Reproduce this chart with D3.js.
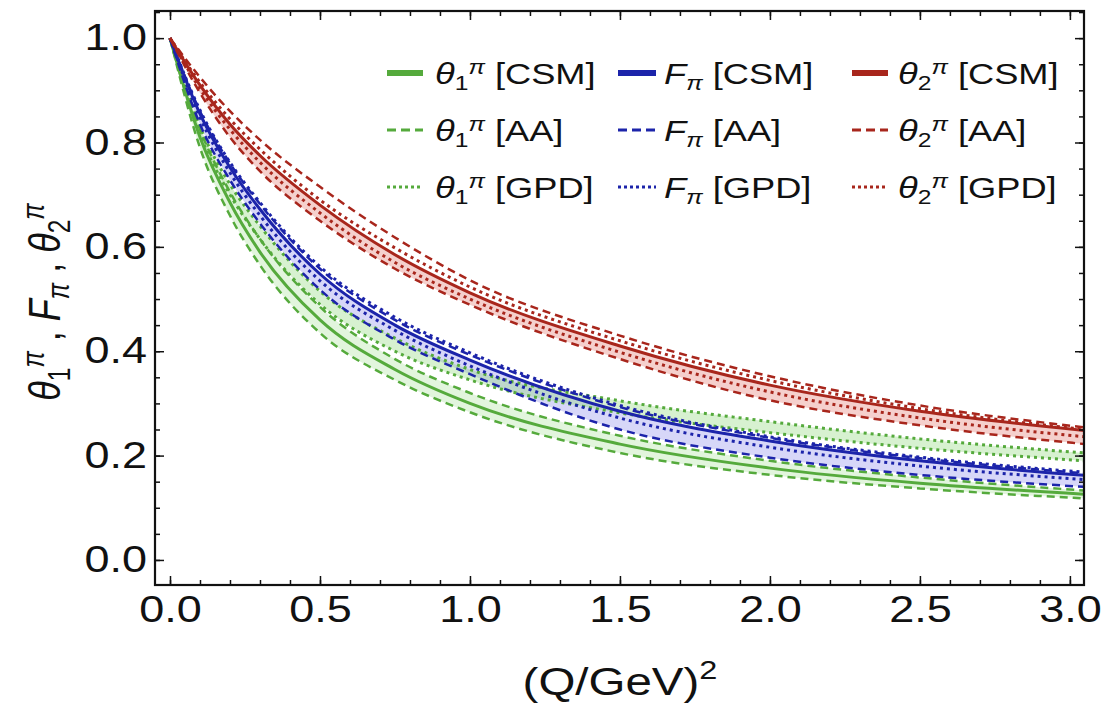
<!DOCTYPE html>
<html>
<head>
<meta charset="utf-8">
<script src="https://cdn.jsdelivr.net/npm/d3@7"></script>
<style>
  body { margin: 0; background: #fff; }
  text { font-family: "Liberation Sans", Arial, Helvetica, sans-serif; fill: #111; }
</style>
</head>
<body>
<svg id="svg" width="1114" height="709"></svg>
<script>
// Q^2 sample points (GeV^2)
const qVals = [0, 0.1, 0.2, 0.3, 0.5, 0.75, 1.0, 1.5, 2.0, 2.5, 3.05];

// theta_2 (red)
const th2Csm   = [1, 0.91, 0.835, 0.775, 0.68, 0.585, 0.512, 0.41, 0.335, 0.285, 0.248];
const th2AaHi  = [1, 0.925, 0.86, 0.805, 0.715, 0.618, 0.536, 0.43, 0.352, 0.296, 0.254];
const th2AaLo  = [1, 0.895, 0.81, 0.745, 0.65, 0.558, 0.489, 0.385, 0.306, 0.258, 0.222];
const th2GpdHi = [1, 0.915, 0.845, 0.787, 0.69, 0.598, 0.523, 0.42, 0.344, 0.29, 0.25];
const th2GpdLo = [1, 0.903, 0.825, 0.762, 0.665, 0.57, 0.5, 0.398, 0.322, 0.272, 0.236];

// F_pi (blue)
const fpCsm   = [1, 0.855, 0.752, 0.672, 0.548, 0.45, 0.383, 0.285, 0.228, 0.19, 0.162];
const fpAaHi  = [1, 0.86, 0.76, 0.682, 0.558, 0.46, 0.393, 0.293, 0.234, 0.195, 0.166];
const fpAaLo  = [1, 0.835, 0.728, 0.645, 0.518, 0.422, 0.356, 0.25, 0.196, 0.163, 0.14];
const fpGpdHi = [1, 0.862, 0.762, 0.685, 0.562, 0.465, 0.397, 0.296, 0.236, 0.197, 0.168];
const fpGpdLo = [1, 0.848, 0.742, 0.66, 0.535, 0.44, 0.372, 0.272, 0.216, 0.18, 0.154];

// theta_1 (green)
const th1Csm   = [1, 0.81, 0.685, 0.59, 0.46, 0.365, 0.30, 0.222, 0.176, 0.147, 0.126];
const th1AaHi  = [1, 0.825, 0.705, 0.615, 0.485, 0.385, 0.32, 0.238, 0.19, 0.158, 0.133];
const th1AaLo  = [1, 0.79, 0.66, 0.565, 0.435, 0.345, 0.283, 0.205, 0.163, 0.137, 0.118];
const th1GpdHi = [1, 0.83, 0.72, 0.64, 0.515, 0.425, 0.365, 0.305, 0.265, 0.232, 0.205];
const th1GpdLo = [1, 0.815, 0.7, 0.615, 0.49, 0.4, 0.345, 0.282, 0.244, 0.214, 0.19];

const xMajor = [0, 0.5, 1.0, 1.5, 2.0, 2.5, 3.0];
const yMajor = [0, 0.2, 0.4, 0.6, 0.8, 1.0];

const GREEN = "#55aa3c", BLUE = "#1c24aa", RED = "#a8261c";
const SX = 1.25; // the figure is horizontally stretched

let svg = d3.select("#svg");

const pLeft = 155, pRight = 1084, pTop = 11, pBottom = 585;
let xScale = d3.scaleLinear().domain([-0.05, 3.047]).range([pLeft, pRight]);
let yScale = d3.scaleLinear().domain([-0.048, 1.052]).range([pBottom, pTop]);

svg.append("defs").append("clipPath").attr("id", "clip")
    .append("rect").attr("x", pLeft).attr("y", pTop)
    .attr("width", pRight - pLeft).attr("height", pBottom - pTop);

let plot = svg.append("g").attr("clip-path", "url(#clip)");

let line = d3.line().x(d => xScale(d[0])).y(d => yScale(d[1])).curve(d3.curveMonotoneX);
let area = d3.area().x(d => xScale(d[0])).y0(d => yScale(d[1])).y1(d => yScale(d[2]))
    .curve(d3.curveMonotoneX);

function pts(vals) { return qVals.map((q, i) => [q, vals[i]]); }
function band(lo, hi) { return qVals.map((q, i) => [q, lo[i], hi[i]]); }

// shaded bands
plot.append("path").attr("d", area(band(th2AaLo, th2Csm))).attr("fill", "rgba(225,110,100,0.32)");
plot.append("path").attr("d", area(band(fpAaLo, fpCsm))).attr("fill", "rgba(110,110,230,0.28)");
plot.append("path").attr("d", area(band(th1GpdLo, th1GpdHi))).attr("fill", "rgba(140,215,120,0.35)");
plot.append("path").attr("d", area(band(th1AaLo, th1AaHi))).attr("fill", "rgba(140,215,120,0.25)");

const DASH = "8,5", DOT = "3,4";
let curves = [
    [th1AaHi, GREEN, DASH, 2.5], [th1AaLo, GREEN, DASH, 2.5],
    [th1GpdHi, GREEN, DOT, 3], [th1GpdLo, GREEN, DOT, 3],
    [th1Csm, GREEN, null, 3],
    [fpAaHi, BLUE, DASH, 2.5], [fpAaLo, BLUE, DASH, 2.5],
    [fpGpdHi, BLUE, DOT, 3], [fpGpdLo, BLUE, DOT, 3],
    [fpCsm, BLUE, null, 3],
    [th2AaHi, RED, DASH, 2.5], [th2AaLo, RED, DASH, 2.5],
    [th2GpdHi, RED, DOT, 3], [th2GpdLo, RED, DOT, 3],
    [th2Csm, RED, null, 3]
];
curves.forEach(c => {
    plot.append("path").attr("d", line(pts(c[0])))
        .attr("fill", "none").attr("stroke", c[1])
        .attr("stroke-width", c[3])
        .attr("stroke-dasharray", c[2]);
});

// axes (ticks pointing inward on all four sides)
function minorVals(a, b, step) {
    let out = [];
    for (let v = a; v <= b + 1e-9; v += step) out.push(+v.toFixed(3));
    return out;
}
const xMinor = minorVals(0, 3.0, 0.1);
const yMinor = minorVals(0, 1.05, 0.05);

function styleAxis(g) {
    g.select(".domain").remove();
    g.selectAll("line").attr("stroke", "#111").attr("stroke-width", 1.5);
}

let xAx = svg.append("g").attr("transform", `translate(0,${pBottom})`)
    .call(d3.axisBottom(xScale).tickValues(xMajor).tickSize(-9).tickPadding(11).tickFormat(d3.format(".1f")))
    .call(styleAxis);
xAx.selectAll("text").attr("font-size", 36).attr("fill", "#111").attr("transform", `scale(${SX},1)`);
svg.append("g").attr("transform", `translate(0,${pBottom})`)
    .call(d3.axisBottom(xScale).tickValues(xMinor).tickSize(-5).tickFormat(""))
    .call(styleAxis);
svg.append("g").attr("transform", `translate(0,${pTop})`)
    .call(d3.axisTop(xScale).tickValues(xMajor).tickSize(-9).tickFormat(""))
    .call(styleAxis);
svg.append("g").attr("transform", `translate(0,${pTop})`)
    .call(d3.axisTop(xScale).tickValues(xMinor).tickSize(-5).tickFormat(""))
    .call(styleAxis);

let yAx = svg.append("g").attr("transform", `translate(${pLeft},0)`)
    .call(d3.axisLeft(yScale).tickValues(yMajor).tickSize(-9).tickPadding(8).tickFormat(d3.format(".1f")))
    .call(styleAxis);
yAx.selectAll("text").attr("font-size", 36).attr("fill", "#111")
    .attr("transform", `translate(-8,0) scale(${SX},1) translate(8,0)`);
svg.append("g").attr("transform", `translate(${pLeft},0)`)
    .call(d3.axisLeft(yScale).tickValues(yMinor).tickSize(-5).tickFormat(""))
    .call(styleAxis);
svg.append("g").attr("transform", `translate(${pRight},0)`)
    .call(d3.axisRight(yScale).tickValues(yMajor).tickSize(-9).tickFormat(""))
    .call(styleAxis);
svg.append("g").attr("transform", `translate(${pRight},0)`)
    .call(d3.axisRight(yScale).tickValues(yMinor).tickSize(-5).tickFormat(""))
    .call(styleAxis);

// frame
svg.append("rect").attr("x", pLeft).attr("y", pTop)
    .attr("width", pRight - pLeft).attr("height", pBottom - pTop)
    .attr("fill", "none").attr("stroke", "#111").attr("stroke-width", 2.2);

// x label
let xl = svg.append("text").attr("transform", `translate(620,695) scale(${SX},1)`)
    .attr("text-anchor", "middle").attr("font-size", 38);
xl.append("tspan").text("(Q/GeV)");
xl.append("tspan").attr("font-size", 26).attr("dy", -16).text("2");

// math label helpers: base symbol with subscript / superscript,
// then the following text put back on the baseline (fs = base font size)
function theta(t, idx, fs, after) {
    t.append("tspan").attr("font-style", "italic").text("θ");
    t.append("tspan").attr("font-size", fs * 0.68).attr("dy", fs * 0.22).text(idx);
    t.append("tspan").attr("font-size", fs * 0.68).attr("font-style", "italic")
        .attr("dy", -fs * 0.58).text("π");
    t.append("tspan").attr("dy", fs * 0.36).text(after);
}
function fpi(t, fs, after) {
    t.append("tspan").attr("font-style", "italic").text("F");
    t.append("tspan").attr("font-size", fs * 0.68).attr("font-style", "italic")
        .attr("dy", fs * 0.2).text("π");
    t.append("tspan").attr("dy", -fs * 0.2).text(after);
}

// y label (rotated)
let yl = svg.append("text").attr("transform", `translate(60,302) rotate(-90) scale(1,${SX})`)
    .attr("text-anchor", "middle").attr("font-size", 36);
theta(yl, "1", 36, " , ");
fpi(yl, 36, " , ");
theta(yl, "2", 36, "");

// legend
const legendCols = [
    { color: GREEN, kind: "th1", x1: 387, x2: 423, tx: 435 },
    { color: BLUE, kind: "fp", x1: 618, x2: 656, tx: 664 },
    { color: RED, kind: "th2", x1: 852, x2: 888, tx: 898 }
];
const legendRows = [
    { tag: "[CSM]", dash: null, w: 6, y: 73 },
    { tag: "[AA]", dash: "9,5", w: 3, y: 130 },
    { tag: "[GPD]", dash: "3,3", w: 3, y: 187 }
];
let legend = svg.append("g");
legendCols.forEach(c => {
    legendRows.forEach(r => {
        legend.append("line").attr("x1", c.x1).attr("x2", c.x2).attr("y1", r.y).attr("y2", r.y)
            .attr("stroke", c.color).attr("stroke-width", r.w).attr("stroke-dasharray", r.dash);
        let t = legend.append("text").attr("transform", `translate(${c.tx},${r.y + 11}) scale(${SX},1)`)
            .attr("font-size", 29);
        if (c.kind === "th1") theta(t, "1", 29, " " + r.tag);
        else if (c.kind === "th2") theta(t, "2", 29, " " + r.tag);
        else fpi(t, 29, " " + r.tag);
    });
});
</script>
</body>
</html>
